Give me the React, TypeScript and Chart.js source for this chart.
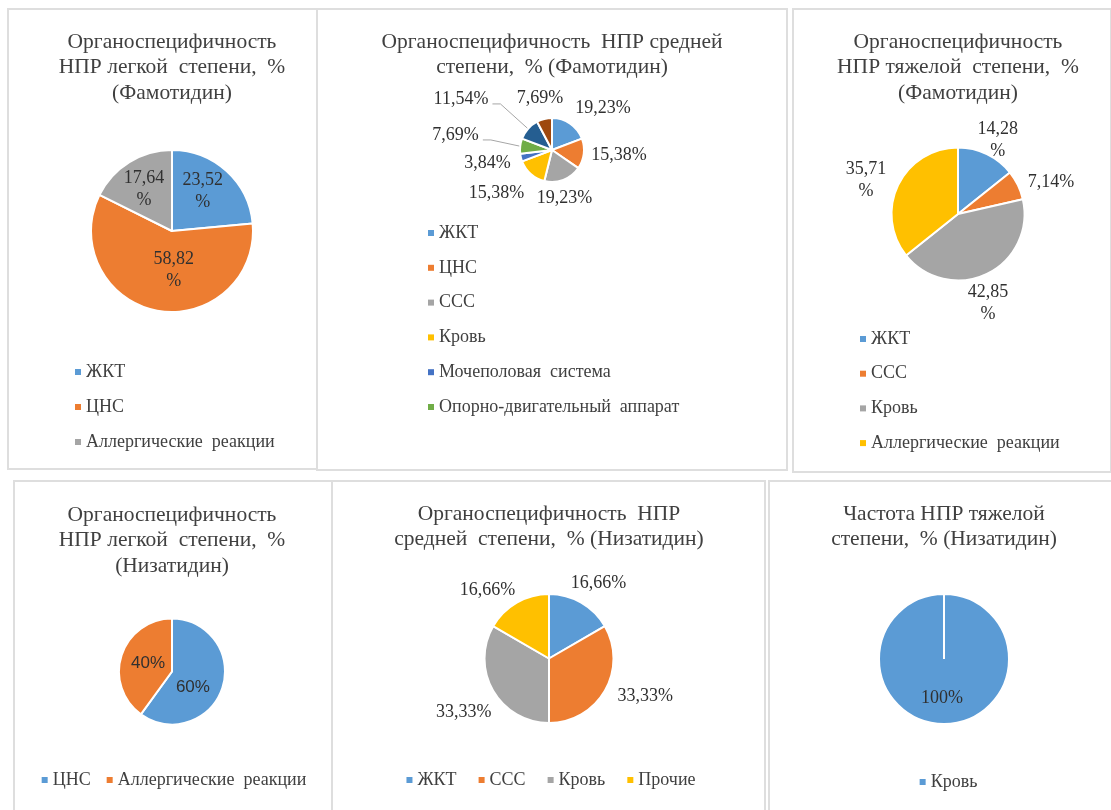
import React, { useEffect, useRef } from "react";
import { Chart, registerables } from "chart.js";

Chart.register(...registerables);

// ---------------- data ----------------
const famLightCats = ["ЖКТ", "ЦНС", "Аллергические  реакции"];
const famLightVals = [23.52, 58.82, 17.64];

const famModCats = [
  "ЖКТ",
  "ЦНС",
  "ССС",
  "Кровь",
  "Мочеполовая  система",
  "Опорно-двигательный  аппарат",
  "Аллергические  реакции",
  "Прочие",
];
const famModVals = [19.23, 15.38, 19.23, 15.38, 3.84, 7.69, 11.54, 7.69];

const famSevCats = ["ЖКТ", "ССС", "Кровь", "Аллергические  реакции"];
const famSevVals = [14.28, 7.14, 42.85, 35.71];

const nizLightCats = ["ЦНС", "Аллергические  реакции"];
const nizLightVals = [60, 40];

const nizModCats = ["ЖКТ", "ССС", "Кровь", "Прочие"];
const nizModVals = [16.66, 33.33, 33.33, 16.66];

const nizSevCats = ["Кровь"];
const nizSevVals = [100];

const famLightTitle = ["Органоспецифичность", "НПР легкой  степени,  %", "(Фамотидин)"];
const famModTitle = ["Органоспецифичность  НПР средней", "степени,  % (Фамотидин)"];
const famSevTitle = ["Органоспецифичность", "НПР тяжелой  степени,  %", "(Фамотидин)"];
const nizLightTitle = ["Органоспецифичность", "НПР легкой  степени,  %", "(Низатидин)"];
const nizModTitle = ["Органоспецифичность  НПР", "средней  степени,  % (Низатидин)"];
const nizSevTitle = ["Частота НПР тяжелой", "степени,  % (Низатидин)"];

// ---------------- styles ----------------
const palette = ["#5B9BD5", "#ED7D31", "#A5A5A5", "#FFC000", "#4472C4", "#70AD47", "#255E91", "#9E480E"];
const SERIF = "'Liberation Serif', 'Times New Roman', serif";
const SANS = "'Liberation Sans', Arial, sans-serif";
const TITLE_COLOR = "#404040";
const LABEL_COLOR = "#303030";
const LEGEND_COLOR = "#404040";
const TITLE_SIZE = 21.5;
const TITLE_LH = 25.5;

type LabelSpec = { f: number; dx: number; dy: number; split?: boolean; leader?: boolean };
type LegendSpec =
  | { mode: "column"; x: number; y: number; step: number; count?: number }
  | { mode: "row"; y: number; shift: number; itemGap: number };

type PanelSpec = {
  cats: string[];
  vals: number[];
  title: string[];
  canvas: { cx: number; width: number; top: number; height: number };
  titleY: number;
  pie: { cy: number; r: number };
  labels: LabelSpec[];
  labelFont: { family: string; size: number };
  legend: LegendSpec;
};

const fmt = (v: number) => String(v).replace(".", ",") + "%";

const pieLabelsPlugin = {
  id: "pieLabels",
  afterDatasetsDraw(chart: any, _args: any, opts: any) {
    const meta = chart.getDatasetMeta(0);
    const ctx: CanvasRenderingContext2D = chart.ctx;
    const values = chart.data.datasets[0].data as number[];
    ctx.save();
    ctx.font = `${opts.size}px ${opts.family}`;
    ctx.fillStyle = opts.color;
    ctx.textAlign = "center";
    ctx.textBaseline = "middle";
    meta.data.forEach((el: any, i: number) => {
      const s: LabelSpec = opts.specs[i];
      if (!s) return;
      const { x, y, startAngle, endAngle, outerRadius } = el.getProps(
        ["x", "y", "startAngle", "endAngle", "outerRadius"],
        true
      );
      const mid = (startAngle + endAngle) / 2;
      const d = outerRadius * s.f;
      const lx = x + Math.cos(mid) * d + s.dx;
      const ly = y + Math.sin(mid) * d + s.dy;
      const txt = fmt(values[i]);
      const lines = s.split ? [txt.slice(0, -1), "%"] : [txt];
      lines.forEach((ln, k) => {
        ctx.fillText(ln, lx, ly + (k - (lines.length - 1) / 2) * opts.lineHeight);
      });
      if (s.leader) {
        const w = ctx.measureText(txt).width;
        const sx = lx + w / 2 + 4;
        const sy = ly + 5;
        const ex = x + Math.cos(mid) * outerRadius * 1.03;
        const ey = y + Math.sin(mid) * outerRadius * 1.03;
        ctx.beginPath();
        ctx.moveTo(sx, sy);
        ctx.lineTo(sx + 8, sy);
        ctx.lineTo(ex, ey);
        ctx.strokeStyle = "#a6a6a6";
        ctx.lineWidth = 1;
        ctx.stroke();
      }
    });
    ctx.restore();
  },
};

const listLegendPlugin = {
  id: "listLegend",
  afterDraw(chart: any, _args: any, opts: any) {
    const ctx: CanvasRenderingContext2D = chart.ctx;
    const labels = chart.data.labels as string[];
    const colors = chart.data.datasets[0].backgroundColor as string[];
    const spec: LegendSpec = opts.spec;
    const box = 6;
    const textGap = 5;
    const cx = (chart.chartArea.left + chart.chartArea.right) / 2;
    ctx.save();
    ctx.font = `${opts.size}px ${opts.family}`;
    ctx.textBaseline = "middle";
    ctx.textAlign = "left";
    if (spec.mode === "column") {
      const n = Math.min(labels.length, spec.count ?? labels.length);
      for (let i = 0; i < n; i++) {
        const y = spec.y + i * spec.step;
        ctx.fillStyle = colors[i];
        ctx.fillRect(cx + spec.x, y - box / 2, box, box);
        ctx.fillStyle = opts.color;
        ctx.fillText(labels[i], cx + spec.x + box + textGap, y);
      }
    } else {
      const widths = labels.map((l) => box + textGap + ctx.measureText(l).width);
      const total = widths.reduce((a, b) => a + b, 0) + spec.itemGap * (labels.length - 1);
      let x = cx - total / 2 + spec.shift;
      labels.forEach((l, i) => {
        ctx.fillStyle = colors[i];
        ctx.fillRect(x, spec.y - box / 2, box, box);
        ctx.fillStyle = opts.color;
        ctx.fillText(l, x + box + textGap, spec.y);
        x += widths[i] + spec.itemGap;
      });
    }
    ctx.restore();
  },
};

const panels: PanelSpec[] = [
  {
    cats: famLightCats,
    vals: famLightVals,
    title: famLightTitle,
    canvas: { cx: 172, width: 300, top: 9, height: 460 },
    titleY: 42,
    pie: { cy: 231, r: 81 },
    labels: [
      { f: 0.62, dx: -3, dy: -3, split: true },
      { f: 0.48, dx: 9, dy: 1, split: true },
      { f: 0.62, dx: -1.5, dy: 1, split: true },
    ],
    labelFont: { family: SERIF, size: 18 },
    legend: { mode: "column", x: -97, y: 372, step: 35 },
  },
  {
    cats: famModCats,
    vals: famModVals,
    title: famModTitle,
    canvas: { cx: 552, width: 460, top: 9, height: 461 },
    titleY: 42,
    pie: { cy: 150, r: 32 },
    labels: [
      { f: 2.06, dx: 13.5, dy: 12.3 },
      { f: 2.1, dx: 0.3, dy: -3.1 },
      { f: 1.55, dx: -5.1, dy: 1.6 },
      { f: 2.19, dx: -9, dy: -9.6 },
      { f: 2.06, dx: -0.6, dy: -2.8 },
      { f: 3.05, dx: 0.5, dy: -3.3, leader: true },
      { f: 3.26, dx: -12.9, dy: 18.1, leader: true },
      { f: 1.67, dx: 0.8, dy: -0.2 },
    ],
    labelFont: { family: SERIF, size: 18 },
    legend: { mode: "column", x: -124, y: 233, step: 34.8, count: 6 },
  },
  {
    cats: famSevCats,
    vals: famSevVals,
    title: famSevTitle,
    canvas: { cx: 958, width: 290, top: 9, height: 463 },
    titleY: 42,
    pie: { cy: 214, r: 66.5 },
    labels: [
      { f: 1.26, dx: 3.5, dy: 1.8, split: true },
      { f: 1.48, dx: 4.3, dy: 10.7 },
      { f: 1.42, dx: -10.9, dy: 4.4, split: true },
      { f: 1.47, dx: -3.8, dy: 9, split: true },
    ],
    labelFont: { family: SERIF, size: 18 },
    legend: { mode: "column", x: -98, y: 339, step: 34.7 },
  },
  {
    cats: nizLightCats,
    vals: nizLightVals,
    title: nizLightTitle,
    canvas: { cx: 172, width: 310, top: 481, height: 329 },
    titleY: 515,
    pie: { cy: 671.5, r: 53 },
    labels: [
      { f: 0.49, dx: -3.8, dy: 7.4 },
      { f: 0.48, dx: 0.3, dy: -0.6 },
    ],
    labelFont: { family: SANS, size: 17 },
    legend: { mode: "row", y: 780, shift: 2, itemGap: 16 },
  },
  {
    cats: nizModCats,
    vals: nizModVals,
    title: nizModTitle,
    canvas: { cx: 548.5, width: 420, top: 481, height: 329 },
    titleY: 514,
    pie: { cy: 658.5, r: 64.5 },
    labels: [
      { f: 1.4, dx: 4.3, dy: 2.7 },
      { f: 1.6, dx: 6.9, dy: -14.3 },
      { f: 1.56, dx: 1.9, dy: 3.1 },
      { f: 1.43, dx: -15.5, dy: 11.2 },
    ],
    labelFont: { family: SERIF, size: 18 },
    legend: { mode: "row", y: 780, shift: 2, itemGap: 22 },
  },
  {
    cats: nizSevCats,
    vals: nizSevVals,
    title: nizSevTitle,
    canvas: { cx: 944, width: 320, top: 481, height: 329 },
    titleY: 514,
    pie: { cy: 659, r: 65 },
    labels: [{ f: 0.6, dx: -2, dy: 0 }],
    labelFont: { family: SERIF, size: 18 },
    legend: { mode: "row", y: 782, shift: 4.5, itemGap: 19 },
  },
];

const borders = [
  { left: 7, top: 8, width: 311, height: 462 },
  { left: 316, top: 8, width: 472, height: 463 },
  { left: 792, top: 8, width: 320, height: 465 },
  { left: 13, top: 480, width: 320, height: 340 },
  { left: 331, top: 480, width: 435, height: 340 },
  { left: 768, top: 480, width: 345, height: 340 },
];

function PiePanel({ spec }: { spec: PanelSpec }) {
  const ref = useRef<HTMLCanvasElement>(null);
  useEffect(() => {
    if (!ref.current) return;
    const { canvas } = spec;
    const titlePadTop = spec.titleY - canvas.top - TITLE_LH / 2;
    const chartTop = titlePadTop + spec.title.length * TITLE_LH;
    const cyRel = spec.pie.cy - canvas.top;
    const chartBottom = 2 * cyRel - chartTop;
    const padBottom = canvas.height - chartBottom;
    const legendSpec: LegendSpec = { ...spec.legend, y: spec.legend.y - canvas.top } as LegendSpec;
    const chart = new Chart(ref.current, {
      type: "pie",
      data: {
        labels: spec.cats,
        datasets: [
          {
            data: spec.vals,
            backgroundColor: palette.slice(0, spec.vals.length),
            borderColor: "#ffffff",
            borderWidth: 2,
          },
        ],
      },
      options: {
        responsive: false,
        animation: false,
        events: [],
        radius: spec.pie.r,
        layout: { padding: { top: 0, left: 0, right: 0, bottom: padBottom } },
        plugins: {
          title: {
            display: true,
            text: spec.title,
            color: TITLE_COLOR,
            font: { family: SERIF, size: TITLE_SIZE, weight: "normal", lineHeight: TITLE_LH + "px" },
            padding: { top: titlePadTop, bottom: 0 },
          },
          legend: { display: false },
          tooltip: { enabled: false },
          pieLabels: {
            specs: spec.labels,
            family: spec.labelFont.family,
            size: spec.labelFont.size,
            color: LABEL_COLOR,
            lineHeight: 22,
          },
          listLegend: {
            spec: legendSpec,
            family: SERIF,
            size: 18,
            color: LEGEND_COLOR,
          },
        },
      } as any,
      plugins: [pieLabelsPlugin, listLegendPlugin],
    });
    return () => chart.destroy();
  }, [spec]);
  const { canvas } = spec;
  return (
    <canvas
      ref={ref}
      width={canvas.width}
      height={canvas.height}
      style={{
        position: "absolute",
        left: canvas.cx - canvas.width / 2,
        top: canvas.top,
        width: canvas.width,
        height: canvas.height,
      }}
    />
  );
}

export default function App() {
  return (
    <div
      style={{
        position: "absolute",
        left: 0,
        top: 0,
        width: 1111,
        height: 810,
        background: "#ffffff",
        overflow: "hidden",
      }}
    >
      {borders.map((b, i) => (
        <div
          key={"b" + i}
          style={{
            position: "absolute",
            boxSizing: "border-box",
            left: b.left,
            top: b.top,
            width: b.width,
            height: b.height,
            border: "2px solid #dedede",
          }}
        />
      ))}
      {panels.map((p, i) => (
        <PiePanel key={"p" + i} spec={p} />
      ))}
    </div>
  );
}
